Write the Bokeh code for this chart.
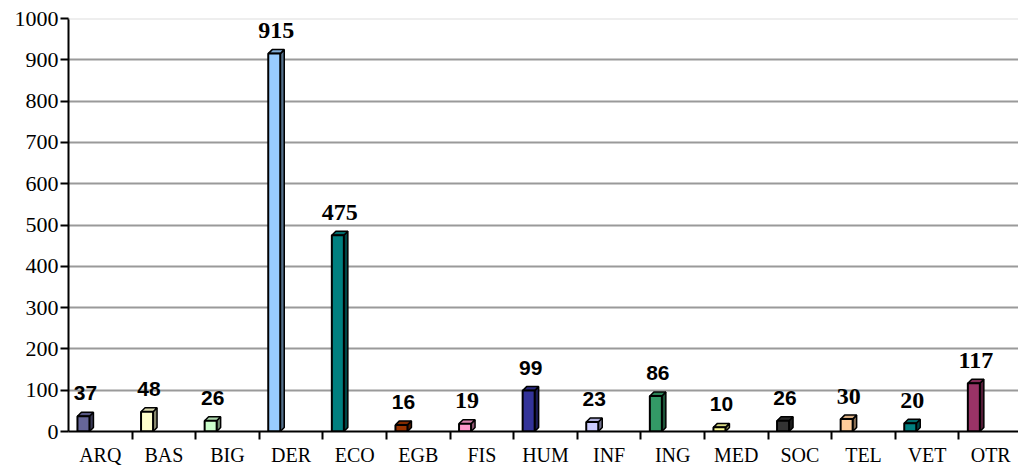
from bokeh.plotting import figure
from bokeh.models import ColumnDataSource, FixedTicker, Range1d, Span
from bokeh.embed import file_html
from bokeh.resources import INLINE

# ---- data ----
categories = ["ARQ", "BAS", "BIG", "DER", "ECO", "EGB", "FIS", "HUM",
              "INF", "ING", "MED", "SOC", "TEL", "VET", "OTR"]
values = [37, 48, 26, 915, 475, 16, 19, 99, 23, 86, 10, 26, 30, 20, 117]
y_ticks = [0, 100, 200, 300, 400, 500, 600, 700, 800, 900, 1000]

# ---- styles ----
bar_colors = ["#666699", "#FFFFCC", "#CCFFCC", "#99CCFF", "#008080", "#993300",
              "#FF99CC", "#333399", "#CCCCFF", "#339966", "#FFFF99", "#333333",
              "#FFCC99", "#008080", "#993366"]
label_fonts = ["Liberation Sans", "Liberation Sans", "Liberation Sans", "Liberation Serif",
               "Liberation Serif", "Liberation Sans", "Liberation Serif", "Liberation Sans",
               "Liberation Sans", "Liberation Sans", "Liberation Sans", "Liberation Sans",
               "Liberation Serif", "Liberation Serif", "Liberation Serif"]


def shade(hexcol, f):
    h = hexcol.lstrip("#")
    r, g, b = (int(h[i:i + 2], 16) for i in (0, 2, 4))
    return "#%02x%02x%02x" % (int(r * f), int(g * f), int(b * f))


FRAME_W, FRAME_H = 950, 414
CAT_PX = 63.6
X_START = -0.5
X_END = X_START + FRAME_W / CAT_PX
Y_MAX = 1000
px_per_val = FRAME_H / Y_MAX

bar_w = 12 / CAT_PX
bar_off = -0.265
dx = 4 / CAT_PX
dy = 4 / px_per_val

p = figure(width=1018, height=468, output_backend="svg", toolbar_location=None,
           x_range=Range1d(X_START, X_END), y_range=Range1d(0, Y_MAX),
           min_border_left=68, min_border_top=18, min_border_right=0,
           min_border_bottom=36)
p.outline_line_color = None
p.background_fill_color = "white"

# grid
p.xgrid.visible = False
p.ygrid.ticker = FixedTicker(ticks=y_ticks[:-1])
p.ygrid.grid_line_color = "#9a9a9a"
p.ygrid.grid_line_width = 2
p.add_layout(Span(location=y_ticks[-1], dimension="width", line_color="#dedede", line_width=2))

# 3D bars
xs_c = [i + bar_off for i in range(len(values))]
xl = [x - bar_w / 2 for x in xs_c]
xr = [x + bar_w / 2 for x in xs_c]

side_xs = [[r, r + dx, r + dx, r] for r in xr]
side_ys = [[0, dy, v + dy, v] for v in values]
top_xs = [[l, l + dx, r + dx, r] for l, r in zip(xl, xr)]
top_ys = [[v, v + dy, v + dy, v] for v in values]

p.patches(side_xs, side_ys, fill_color=[shade(c, 0.55) for c in bar_colors],
          line_color="black", line_width=1.5)
p.patches(top_xs, top_ys, fill_color=[shade(c, 0.85) for c in bar_colors],
          line_color="black", line_width=1.5)
p.vbar(x=xs_c, top=values, bottom=0, width=bar_w, fill_color=bar_colors,
       line_color="black", line_width=2)

# labels
src = ColumnDataSource(dict(
    x=[x + dx / 2 for x in xs_c], y=values, text=[str(v) for v in values],
    font=label_fonts,
    size=["24px" if f.endswith("Serif") else "21px" for f in label_fonts]))
p.text(x="x", y="y", text="text", source=src, text_font="font", text_font_size="size",
       text_font_style="bold", text_align="center", text_baseline="middle",
       y_offset=-23, text_color="black")

# y axis
p.yaxis.ticker = FixedTicker(ticks=y_ticks)
p.yaxis.minor_tick_line_color = None
p.yaxis.major_tick_in = 0
p.yaxis.major_tick_out = 8
p.yaxis.major_tick_line_width = 2
p.yaxis.major_tick_line_color = "black"
p.yaxis.axis_line_width = 2
p.yaxis.axis_line_color = "black"
p.yaxis.major_label_text_font = "Liberation Serif"
p.yaxis.major_label_text_font_size = "22px"
p.yaxis.major_label_text_color = "black"
p.yaxis.major_label_standoff = 2

# x axis
p.xaxis.ticker = FixedTicker(ticks=list(range(len(categories))),
                             minor_ticks=[i + 0.5 for i in range(len(categories) - 1)])
p.xaxis.major_label_overrides = {i: c for i, c in enumerate(categories)}
p.xaxis.major_tick_in = 0
p.xaxis.major_tick_out = 0
p.xaxis.minor_tick_in = 0
p.xaxis.minor_tick_out = 8
p.xaxis.minor_tick_line_width = 2
p.xaxis.minor_tick_line_color = "black"
p.xaxis.axis_line_width = 2
p.xaxis.axis_line_color = "black"
p.xaxis.major_label_text_font = "Liberation Serif"
p.xaxis.major_label_text_font_size = "20px"
p.xaxis.major_label_text_color = "black"
p.xaxis.major_label_standoff = 4

open("out.html", "w").write(file_html(p, INLINE))
